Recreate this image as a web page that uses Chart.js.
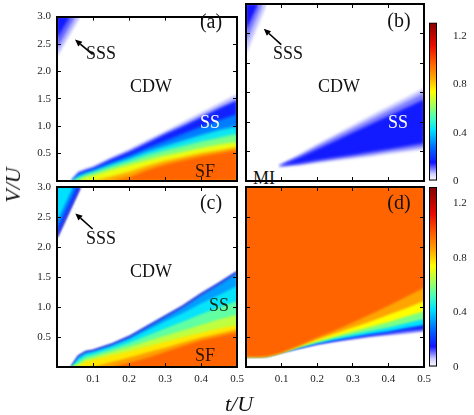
<!DOCTYPE html>
<html><head><meta charset="utf-8">
<script src="https://cdn.jsdelivr.net/npm/chart.js@4.4.1/dist/chart.umd.min.js"></script>
<style>
html,body{margin:0;padding:0;background:#fff;}
#wrap{position:relative;width:474px;height:415px;overflow:hidden;font-family:'Liberation Serif','Times New Roman',serif;}
#wrap canvas{position:absolute;left:0;top:0;}
.t{position:absolute;transform:translate(-50%,-50%);line-height:1;white-space:nowrap;color:#111;font-size:18px;}
.pl{font-size:20px;}
.ax{font-style:italic;font-size:22px;}
</style></head><body>
<div id="wrap">
  <div class="t" style="left:264px;top:178px;">MI</div>
  <canvas id="pa" width="474" height="415"></canvas>
  <canvas id="pb" width="474" height="415"></canvas>
  <canvas id="pc" width="474" height="415"></canvas>
  <canvas id="pd" width="474" height="415"></canvas>
  <canvas id="cb1" width="474" height="415"></canvas>
  <canvas id="cb2" width="474" height="415"></canvas>
  <div class="t pl" style="left:211px;top:21px;">(a)</div>
  <div class="t" style="left:101px;top:53px;">SSS</div>
  <div class="t" style="left:151px;top:86px;">CDW</div>
  <div class="t" style="left:210px;top:122px;color:#fff;">SS</div>
  <div class="t" style="left:205px;top:171px;color:#2a1400;">SF</div>
  <div class="t pl" style="left:399px;top:20px;">(b)</div>
  <div class="t" style="left:288px;top:53px;">SSS</div>
  <div class="t" style="left:339px;top:86px;">CDW</div>
  <div class="t" style="left:398px;top:122px;color:#fff;">SS</div>
  <div class="t pl" style="left:211px;top:202px;">(c)</div>
  <div class="t" style="left:101px;top:238px;">SSS</div>
  <div class="t" style="left:151px;top:271px;">CDW</div>
  <div class="t" style="left:219px;top:305px;color:#1a2a10;">SS</div>
  <div class="t" style="left:205px;top:355px;color:#2a1400;">SF</div>
  <div class="t pl" style="left:399px;top:202px;">(d)</div>
  <div class="t ax" style="left:239px;top:404px;">t/U</div>
  <div class="t ax" style="left:13px;top:185px;transform:translate(-50%,-50%) rotate(-90deg);">V/U</div>
</div>
<script>
// ---------------- DATA ----------------
const tGrid = [0, 0.04, 0.06, 0.08, 0.1, 0.15, 0.2, 0.25, 0.3, 0.35, 0.4, 0.45, 0.5];
const xTicks = [0.1, 0.2, 0.3, 0.4, 0.5];
const yTicks = [0.5, 1.0, 1.5, 2.0, 2.5, 3.0];
const cbarTicks = [0, 0.4, 0.8, 1.2];

// panel (a): contour lines V/U(t) of the order parameter, outer -> inner
const aLevels = [0.07, 0.17, 0.30, 0.44, 0.58, 0.72, 0.85, 0.97];
const aC1 = [0, 0, 0.17, 0.22, 0.26, 0.42, 0.57, 0.74, 0.90, 1.07, 1.24, 1.41, 1.58];
const aC2 = [0, 0, 0.15, 0.20, 0.24, 0.40, 0.54, 0.70, 0.86, 1.01, 1.17, 1.33, 1.48];
const aC3 = [0, 0, 0.12, 0.17, 0.21, 0.34, 0.46, 0.60, 0.73, 0.86, 0.99, 1.11, 1.22];
const aC4 = [0, 0, 0.09, 0.14, 0.18, 0.30, 0.41, 0.54, 0.64, 0.74, 0.84, 0.93, 1.00];
const aC5 = [0, 0, 0.05, 0.11, 0.15, 0.26, 0.36, 0.47, 0.56, 0.64, 0.72, 0.79, 0.86];
const aC6 = [0, 0, 0.02, 0.07, 0.10, 0.20, 0.29, 0.38, 0.46, 0.53, 0.60, 0.66, 0.71];
const aC7 = [0, 0, 0, 0, 0, 0.08, 0.17, 0.28, 0.37, 0.44, 0.51, 0.56, 0.62];
const aC8 = [0, 0, 0, 0, 0, 0, 0.07, 0.20, 0.30, 0.38, 0.45, 0.51, 0.57];
// SSS wedges: V at t=0 and t at V=3 for each level (outer -> inner)
const aSssLevels = [0.07, 0.11, 0.16];
const aSssLeftV = [2.27, 2.42, 2.60];
const aSssTopT = [0.064, 0.050, 0.036];

// panel (b): SS wedge, upper / lower edges per level
const tB = [0.09, 0.15, 0.2, 0.25, 0.3, 0.35, 0.4, 0.45, 0.5];
const bLevels = [0.065, 0.10, 0.16];
const bUp1 = [0.25, 0.45, 0.62, 0.78, 0.94, 1.10, 1.26, 1.41, 1.57];
const bLo1 = [0.25, 0.27, 0.31, 0.35, 0.38, 0.42, 0.46, 0.50, 0.54];
const bUp2 = [0.25, 0.43, 0.59, 0.74, 0.89, 1.04, 1.19, 1.34, 1.49];
const bLo2 = [0.25, 0.28, 0.33, 0.37, 0.41, 0.45, 0.50, 0.54, 0.58];
const bUp3 = [0.25, 0.40, 0.54, 0.68, 0.82, 0.96, 1.10, 1.24, 1.38];
const bLo3 = [0.25, 0.30, 0.35, 0.40, 0.44, 0.49, 0.54, 0.59, 0.64];
const bSssLevels = [0.065, 0.10, 0.15];
const bSssLeftV = [2.15, 2.35, 2.55];
const bSssTopT = [0.058, 0.046, 0.034];

// panel (c)
const cLevels = [0.34, 0.43, 0.55, 0.66, 0.77, 0.87, 0.97];
const cC1 = [0, 0, 0.18, 0.25, 0.27, 0.37, 0.50, 0.67, 0.84, 1.01, 1.21, 1.39, 1.58];
const cC2 = [0, 0, 0.15, 0.22, 0.25, 0.34, 0.46, 0.61, 0.76, 0.90, 1.06, 1.20, 1.35];
const cC3 = [0, 0, 0.10, 0.18, 0.21, 0.30, 0.40, 0.52, 0.64, 0.76, 0.88, 0.99, 1.10];
const cC4 = [0, 0, 0.05, 0.13, 0.16, 0.25, 0.33, 0.43, 0.52, 0.61, 0.70, 0.79, 0.87];
const cC5 = [0, 0, 0.02, 0.09, 0.12, 0.19, 0.26, 0.34, 0.42, 0.50, 0.57, 0.64, 0.70];
const cC6 = [0, 0, 0, 0, 0, 0.08, 0.16, 0.24, 0.32, 0.41, 0.49, 0.56, 0.63];
const cC7 = [0, 0, 0, 0, 0, 0, 0.07, 0.15, 0.25, 0.35, 0.44, 0.51, 0.58];
const cSssLevels = [0.17, 0.30, 0.42];
const cSssLeftV = [2.17, 2.27, 2.42];
const cSssTopT = [0.064, 0.056, 0.045];

// panel (d): contours, lowest -> highest (region above each is coloured)
const dLevels = [0.10, 0.18, 0.42, 0.58, 0.74, 0.86, 0.97];
const dC1 = [0.17, 0.17, 0.18, 0.21, 0.24, 0.31, 0.37, 0.42, 0.46, 0.50, 0.53, 0.56, 0.59];
const dC2 = [0.17, 0.17, 0.18, 0.21, 0.24, 0.31, 0.38, 0.43, 0.48, 0.52, 0.56, 0.60, 0.63];
const dC3 = [0.17, 0.17, 0.18, 0.21, 0.24, 0.32, 0.39, 0.45, 0.50, 0.55, 0.59, 0.65, 0.70];
const dC4 = [0.17, 0.17, 0.18, 0.21, 0.24, 0.33, 0.41, 0.48, 0.54, 0.60, 0.66, 0.73, 0.80];
const dC5 = [0.17, 0.17, 0.18, 0.21, 0.24, 0.34, 0.43, 0.51, 0.59, 0.67, 0.75, 0.84, 0.93];
const dC6 = [0.17, 0.17, 0.18, 0.21, 0.24, 0.35, 0.46, 0.56, 0.66, 0.76, 0.87, 0.98, 1.10];
const dC7 = [0.17, 0.17, 0.18, 0.21, 0.24, 0.36, 0.49, 0.61, 0.74, 0.88, 1.02, 1.17, 1.32];

// arrows to the SSS labels: [t, V] of tail and tip
const arrowAB = {tail: [0.099, 2.31], tip: [0.05, 2.58]};
const arrowC = {tail: [0.099, 2.30], tip: [0.051, 2.56]};

// colour-bar ranges
const cbar1Range = [0, 1.31];
const cbar2Range = [0, 1.32];

// ---------------- STYLE ----------------
const W = 474, H = 415;
const FONT = "'Liberation Serif','Times New Roman',serif";
const cmapStops = [
  [0.00, [255, 255, 255]], [0.06, [205, 205, 255]], [0.15, [20, 20, 255]],
  [0.28, [0, 110, 255]], [0.42, [0, 225, 255]], [0.52, [70, 255, 190]],
  [0.62, [160, 255, 95]], [0.74, [255, 255, 0]], [0.85, [255, 170, 0]],
  [0.97, [255, 100, 0]], [1.12, [235, 10, 0]], [1.32, [128, 0, 0]]
];
function cmap(v) {
  if (v <= cmapStops[0][0]) return 'rgb(' + cmapStops[0][1].join(',') + ')';
  for (let i = 1; i < cmapStops.length; i++) {
    const [v1, c1] = cmapStops[i];
    const [v0, c0] = cmapStops[i - 1];
    if (v <= v1) {
      const f = (v - v0) / (v1 - v0);
      return 'rgb(' + c0.map((c, k) => Math.round(c + (c1[k] - c) * f)).join(',') + ')';
    }
  }
  return 'rgb(' + cmapStops[cmapStops.length - 1][1].join(',') + ')';
}

function pts(xs, ys) { return xs.map((x, i) => ({x: x, y: ys[i]})); }
function ds(xs, ys, color, fill, extra) {
  return Object.assign({
    data: pts(xs, ys), backgroundColor: color, borderColor: 'rgba(0,0,0,0)',
    borderWidth: 0, fill: fill, pointRadius: 0, tension: 0
  }, extra || {});
}
function wedges(leftV, topT, levels, extra) {
  return leftV.map((v, i) => ds([0, topT[i]], [v, 3], cmap(levels[i]), 'end', extra));
}

// soft edges for the colour map fills (datasets only)
const blurPlugin = {
  id: 'heatBlur',
  beforeDatasetsDraw(chart, args, opts) { if (opts && opts.px) chart.ctx.filter = 'blur(' + opts.px + 'px)'; },
  afterDatasetsDraw(chart) { chart.ctx.filter = 'none'; }
};
const arrowPlugin = {
  id: 'arrows',
  afterDatasetsDraw(chart, args, opts) {
    if (!opts || !opts.list) return;
    const c = chart.ctx, xs = chart.scales.x, ys = chart.scales.y;
    opts.list.forEach(a => {
      const x0 = xs.getPixelForValue(a.tail[0]), y0 = ys.getPixelForValue(a.tail[1]);
      const x1 = xs.getPixelForValue(a.tip[0]), y1 = ys.getPixelForValue(a.tip[1]);
      const ang = Math.atan2(y1 - y0, x1 - x0), hl = 7, hw = 3.2;
      const bx = x1 - hl * Math.cos(ang), by = y1 - hl * Math.sin(ang);
      c.save();
      c.filter = 'none';
      c.strokeStyle = '#000'; c.fillStyle = '#000'; c.lineWidth = 1.6;
      c.beginPath(); c.moveTo(x0, y0); c.lineTo(bx, by); c.stroke();
      c.beginPath(); c.moveTo(x1, y1);
      c.lineTo(bx + hw * Math.sin(ang), by - hw * Math.cos(ang));
      c.lineTo(bx - hw * Math.sin(ang), by + hw * Math.cos(ang));
      c.closePath(); c.fill();
      c.restore();
    });
  }
};

function axis(pos, max, ticks, showLabels, size) {
  const horiz = (pos === 'top' || pos === 'bottom');
  return {
    type: 'linear', position: pos, min: 0, max: max,
    afterFit: s => { if (horiz) s.height = size; else s.width = size; },
    afterBuildTicks: s => { s.ticks = ticks.map(v => ({value: v})); },
    border: {display: true, color: '#000', width: 2, z: 2},
    grid: {drawOnChartArea: false, drawTicks: true, tickLength: -4, color: '#000', lineWidth: 1, z: 2},
    ticks: {
      display: showLabels, padding: 10, color: '#222', autoSkip: false, maxRotation: 0,
      font: {family: FONT, size: 11},
      callback: v => v.toFixed(1)
    }
  };
}

function panel(id, area, datasets, showX, showY, arrows, blurPx) {
  const n = datasets.length;
  datasets.forEach((d, i) => { d.order = n - i; });
  const leftW = showY ? 45 : 0, botH = showX ? 25 : 0;
  new Chart(document.getElementById(id), {
    type: 'line',
    data: {datasets: datasets},
    plugins: [blurPlugin, arrowPlugin],
    options: {
      responsive: false, animation: false, devicePixelRatio: 1,
      layout: {padding: {left: area.l - leftW, top: area.t, right: W - area.r, bottom: H - area.b - botH}},
      plugins: {legend: {display: false}, tooltip: {enabled: false},
                arrows: {list: arrows}, heatBlur: {px: blurPx}},
      elements: {point: {radius: 0}, line: {tension: 0}},
      scales: {
        x: axis('bottom', 0.5, xTicks, showX, botH),
        x2: axis('top', 0.5, xTicks, false, 0),
        y: axis('left', 3, yTicks, showY, leftW),
        y2: axis('right', 3, yTicks, false, 0)
      }
    }
  });
}

function colorbar(id, area, range) {
  const rightW = W - area.r;
  new Chart(document.getElementById(id), {
    type: 'bar',
    data: {labels: ['c'], datasets: [{
      data: [range],
      borderColor: '#000', borderWidth: 1.3, borderSkipped: false,
      barPercentage: 1, categoryPercentage: 1,
      backgroundColor: ctx => {
        const ch = ctx.chart, ca = ch.chartArea;
        if (!ca) return '#fff';
        const y = ch.scales.y;
        const g = ch.ctx.createLinearGradient(0, y.getPixelForValue(range[0]), 0, y.getPixelForValue(range[1]));
        cmapStops.forEach(([v]) => { if (v <= range[1]) g.addColorStop(v / range[1], cmap(v)); });
        g.addColorStop(1, cmap(range[1]));
        return g;
      }
    }]},
    options: {
      responsive: false, animation: false, devicePixelRatio: 1,
      layout: {padding: {left: area.l, top: area.t, right: 0, bottom: H - area.b}},
      plugins: {legend: {display: false}, tooltip: {enabled: false}},
      scales: {
        x: {display: false, afterFit: s => { s.height = 0; }},
        y: {
          position: 'right', min: range[0], max: range[1],
          afterFit: s => { s.width = rightW; },
          afterBuildTicks: s => { s.ticks = cbarTicks.map(v => ({value: v})); },
          border: {display: false},
          grid: {drawOnChartArea: false, drawTicks: false},
          ticks: {padding: 16, color: '#222', font: {family: FONT, size: 11},
                  callback: v => v === 0 ? '0' : v.toFixed(1)}
        }
      }
    }
  });
}

// ---------------- BUILD ----------------
const aMain = [aC1, aC2, aC3, aC4, aC5, aC6, aC7, aC8].map((c, i) => ds(tGrid, c, cmap(aLevels[i]), 'start'));
panel('pa', {l: 57, t: 4, r: 237, b: 181},
  aMain.concat(wedges(aSssLeftV, aSssTopT, aSssLevels)), false, true, [arrowAB], 1.6);

const bDs = [];
[[bUp1, bLo1], [bUp2, bLo2], [bUp3, bLo3]].forEach(([up, lo], i) => {
  const li = bDs.length;
  bDs.push(ds(tB, lo, 'rgba(0,0,0,0)', false));
  bDs.push(ds(tB, up, cmap(bLevels[i]), li));
});
panel('pb', {l: 246, t: 4, r: 424, b: 181},
  bDs.concat(wedges(bSssLeftV, bSssTopT, bSssLevels)), false, false, [arrowAB], 1.6);

const edgeBlue = '#1020d8';
const cMain = [cC1, cC2, cC3, cC4, cC5, cC6, cC7].map((c, i) => ds(tGrid, c, cmap(cLevels[i]), 'start'));
cMain[0].borderWidth = 2;
cMain[0].segment = {borderColor: s => (s.p0.parsed.y === 0 && s.p1.parsed.y === 0) ? 'rgba(0,0,0,0)' : edgeBlue};
const cW = wedges(cSssLeftV, cSssTopT, cSssLevels);
cW[0].borderWidth = 2; cW[0].borderColor = edgeBlue;
panel('pc', {l: 57, t: 187, r: 237, b: 367}, cMain.concat(cW), true, true, [arrowC], 0.8);

const dMain = [dC1, dC2, dC3, dC4, dC5, dC6, dC7].map((c, i) => ds(tGrid, c, cmap(dLevels[i]), 'end'));
panel('pd', {l: 246, t: 187, r: 424, b: 367}, dMain, true, false, [], 1);

colorbar('cb1', {l: 429, t: 4, r: 437, b: 181}, cbar1Range);
colorbar('cb2', {l: 429, t: 187, r: 437, b: 367}, cbar2Range);
</script>
</body></html>
